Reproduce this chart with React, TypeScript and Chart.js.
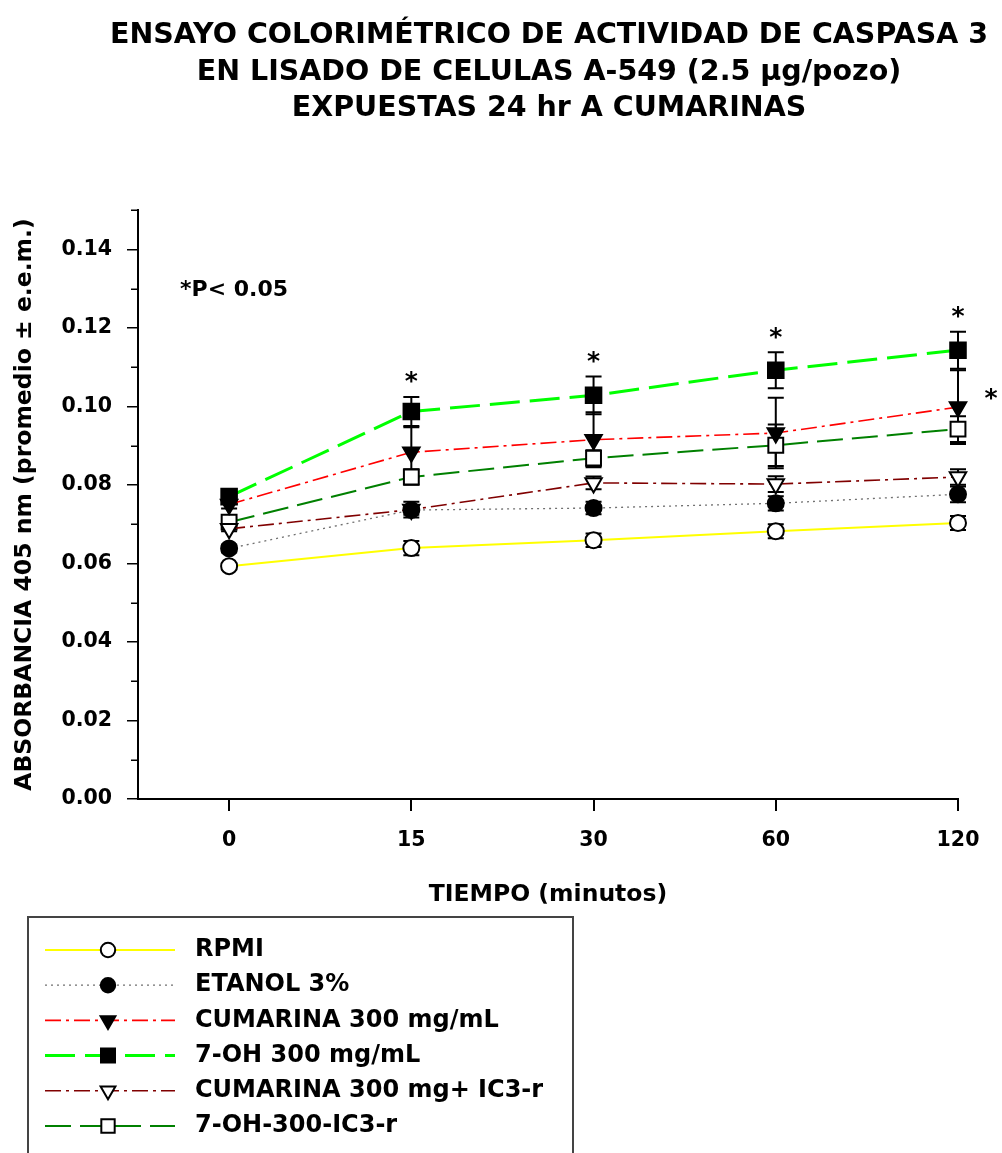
import React, { useEffect, useRef } from 'react';
import { Chart, registerables } from 'chart.js';
import { drawPoint } from 'chart.js/helpers';

Chart.register(...registerables);

// ---------- data ----------
const categories = ['0', '15', '30', '60', '120'];

const rpmi = [0.0593, 0.0639, 0.0659, 0.0682, 0.0703];
const rpmiErr = [0.0008, 0.0018, 0.0017, 0.0018, 0.0018];

const etanol = [0.0638, 0.0736, 0.0741, 0.0753, 0.0776];
const etanolErr = [0.0010, 0.0012, 0.0016, 0.0018, 0.0020];

const cumarina = [0.0750, 0.0883, 0.0915, 0.0932, 0.0998];
const cumarinaErr = [0.0010, 0.0064, 0.0070, 0.0090, 0.0094];

const oh7 = [0.0770, 0.0987, 0.1028, 0.1092, 0.1143];
const oh7Err = [0.0019, 0.0037, 0.0048, 0.0046, 0.0047];

const cumIc3 = [0.0688, 0.0737, 0.0805, 0.0802, 0.0820];
const cumIc3Err = [0.0006, 0.0020, 0.0016, 0.0020, 0.0020];

const oh7Ic3 = [0.0705, 0.0820, 0.0868, 0.0901, 0.0942];
const oh7Ic3Err = [0.0010, 0.0020, 0.0020, 0.0053, 0.0033];

const seriesNames = [
  'RPMI',
  'ETANOL 3%',
  'CUMARINA 300 mg/mL',
  '7-OH 300 mg/mL',
  'CUMARINA 300 mg+ IC3-r',
  '7-OH-300-IC3-r',
];

const sig7OH = [false, true, true, true, true];
const sigCumarina = [false, false, false, false, true];

const yTickValues = [0, 0.01, 0.02, 0.03, 0.04, 0.05, 0.06, 0.07, 0.08, 0.09, 0.1, 0.11, 0.12, 0.13, 0.14, 0.15];

const titleLines = [
  'ENSAYO COLORIMÉTRICO DE ACTIVIDAD DE CASPASA 3',
  'EN LISADO DE CELULAS A-549 (2.5 μg/pozo)',
  'EXPUESTAS 24 hr A CUMARINAS',
];
const noteText = '*P< 0.05';
const xTitle = 'TIEMPO (minutos)';
const yTitle = 'ABSORBANCIA 405 nm (promedio ± e.e.m.)';

// ---------- styles ----------
const FONT = '"DejaVu Sans", "Liberation Sans", Arial, sans-serif';

const seriesValues = [rpmi, etanol, cumarina, oh7, cumIc3, oh7Ic3];
const seriesErrors = [rpmiErr, etanolErr, cumarinaErr, oh7Err, cumIc3Err, oh7Ic3Err];

const seriesStyles = [
  { color: '#FFFF00', dash: [] as number[], width: 2, pointStyle: 'circle', fill: '#FFFFFF', radius: 8, rotation: 0 },
  { color: '#707070', dash: [2, 4], width: 1.3, pointStyle: 'circle', fill: '#000000', radius: 8, rotation: 0 },
  { color: '#FF0000', dash: [16, 5, 3, 5], width: 1.6, pointStyle: 'triangle', fill: '#000000', radius: 9.5, rotation: 180 },
  { color: '#00FF00', dash: [30, 10], width: 3, pointStyle: 'rect', fill: '#000000', radius: 11, rotation: 0 },
  { color: '#800000', dash: [16, 5, 3, 5], width: 1.6, pointStyle: 'triangle', fill: '#FFFFFF', radius: 9.5, rotation: 180 },
  { color: '#008000', dash: [26, 9], width: 2, pointStyle: 'rect', fill: '#FFFFFF', radius: 10.5, rotation: 0 },
];

const isMajorY = (v: number) => Math.round(v * 100) % 2 === 0;

const errorBarPlugin = {
  id: 'errorBars',
  beforeDatasetsDraw(chart: any) {
    const { ctx } = chart;
    const xs = chart.scales.x;
    const ys = chart.scales.y;
    ctx.save();
    ctx.strokeStyle = '#000';
    ctx.lineWidth = 2;
    ctx.setLineDash([]);
    seriesValues.forEach((vals, si) => {
      vals.forEach((v, i) => {
        const e = seriesErrors[si][i];
        const x = xs.getPixelForValue(i);
        const yt = ys.getPixelForValue(v + e);
        const yb = ys.getPixelForValue(v - e);
        ctx.beginPath();
        ctx.moveTo(x, yt);
        ctx.lineTo(x, yb);
        ctx.moveTo(x - 8, yt);
        ctx.lineTo(x + 8, yt);
        ctx.moveTo(x - 8, yb);
        ctx.lineTo(x + 8, yb);
        ctx.stroke();
      });
    });
    ctx.restore();
  },
};

const decorPlugin = {
  id: 'decor',
  afterDraw(chart: any) {
    const { ctx } = chart;
    const xs = chart.scales.x;
    const ys = chart.scales.y;
    ctx.save();

    // minor y ticks (shorter)
    ctx.strokeStyle = '#000';
    ctx.lineWidth = 1.5;
    yTickValues.forEach((v) => {
      if (isMajorY(v)) return;
      const y = Math.round(ys.getPixelForValue(v)) + 0.25;
      ctx.beginPath();
      ctx.moveTo(ys.right - 7, y);
      ctx.lineTo(ys.right, y);
      ctx.stroke();
    });

    ctx.fillStyle = '#000';
    // title
    ctx.font = `bold 28.5px ${FONT}`;
    ctx.textAlign = 'center';
    ctx.textBaseline = 'middle';
    const titleY = [36, 73, 109];
    titleLines.forEach((t, i) => ctx.fillText(t, 549, titleY[i]));

    // note
    ctx.font = `bold 22px ${FONT}`;
    ctx.textAlign = 'left';
    ctx.fillText(noteText, 180, 290);

    // asterisks
    ctx.font = `bold 25px ${FONT}`;
    ctx.textAlign = 'center';
    ctx.textBaseline = 'middle';
    sig7OH.forEach((s, i) => {
      if (!s) return;
      const x = xs.getPixelForValue(i);
      const y = ys.getPixelForValue(oh7[i] + oh7Err[i]) - 14;
      ctx.fillText('*', x, y);
    });
    sigCumarina.forEach((s, i) => {
      if (!s) return;
      const x = xs.getPixelForValue(i) + 33;
      const y = ys.getPixelForValue(cumarina[i]) - 8;
      ctx.fillText('*', x, y);
    });

    // legend
    ctx.strokeStyle = '#444';
    ctx.lineWidth = 2;
    ctx.strokeRect(28, 917, 545, 300);
    const rowY0 = 950;
    const rowDy = 35.2;
    seriesNames.forEach((name, i) => {
      const st = seriesStyles[i];
      const y = rowY0 + i * rowDy;
      ctx.save();
      ctx.strokeStyle = st.color;
      ctx.lineWidth = st.width;
      ctx.setLineDash(st.dash);
      ctx.beginPath();
      ctx.moveTo(45, y);
      ctx.lineTo(175, y);
      ctx.stroke();
      ctx.setLineDash([]);
      ctx.fillStyle = st.fill;
      ctx.strokeStyle = '#000';
      ctx.lineWidth = 2;
      drawPoint(ctx, { pointStyle: st.pointStyle, radius: st.radius * 0.9, rotation: st.rotation, borderWidth: 2 } as any, 108, y);
      ctx.restore();
      ctx.fillStyle = '#000';
      ctx.font = `bold 24px ${FONT}`;
      ctx.textAlign = 'left';
      ctx.textBaseline = 'middle';
      ctx.fillText(name, 195, y);
    });
    ctx.restore();
  },
};

export default function App() {
  const canvasRef = useRef<HTMLCanvasElement | null>(null);

  useEffect(() => {
    const canvas = canvasRef.current;
    if (!canvas) return;
    const datasets = seriesValues.map((vals, si) => {
      const st = seriesStyles[si];
      return {
        label: seriesNames[si],
        data: vals.map((v, i) => ({ x: i, y: v })),
        borderColor: st.color,
        borderWidth: st.width,
        borderDash: st.dash,
        backgroundColor: st.fill,
        pointStyle: st.pointStyle,
        pointRadius: st.radius,
        pointRotation: st.rotation,
        pointBackgroundColor: st.fill,
        pointBorderColor: '#000',
        pointBorderWidth: 2,
        fill: false,
        tension: 0,
        clip: false,
      };
    });

    const chart = new Chart(canvas, {
      type: 'line',
      data: { datasets } as any,
      plugins: [errorBarPlugin, decorPlugin],
      options: {
        responsive: false,
        animation: false,
        devicePixelRatio: 1,
        layout: { padding: { left: 0, top: 210, right: 44, bottom: 239 } },
        plugins: {
          legend: { display: false },
          tooltip: { enabled: false },
          title: { display: false },
        },
        scales: {
          x: {
            type: 'linear',
            min: -0.5,
            max: 4,
            afterBuildTicks: (s: any) => {
              s.ticks = categories.map((_, i) => ({ value: i }));
            },
            afterFit: (s: any) => {
              s.height = 115;
            },
            grid: { drawOnChartArea: false, drawTicks: true, tickLength: 12, color: '#000', lineWidth: 2 },
            border: { display: true, color: '#000', width: 2 },
            ticks: {
              autoSkip: false,
              maxRotation: 0,
              padding: 17,
              color: '#000',
              font: { family: FONT, size: 20.5, weight: 'bold' },
              callback: (v: any) => categories[Math.round(v)] ?? '',
            },
            title: {
              display: true,
              text: xTitle,
              color: '#000',
              font: { family: FONT, size: 23.5, weight: 'bold' },
              padding: { top: 0, bottom: 5 },
            },
          },
          y: {
            type: 'linear',
            min: 0,
            max: 0.15,
            afterBuildTicks: (s: any) => {
              s.ticks = yTickValues.map((v) => ({ value: v }));
            },
            afterFit: (s: any) => {
              s.width = 138;
            },
            grid: {
              drawOnChartArea: false,
              drawTicks: true,
              tickLength: 11,
              color: '#000',
              lineWidth: 1.5,
              tickColor: (c: any) => (c.tick && !isMajorY(c.tick.value) ? 'rgba(0,0,0,0)' : '#000'),
            },
            border: { display: true, color: '#000', width: 2 },
            ticks: {
              autoSkip: false,
              padding: 15,
              color: '#000',
              font: { family: FONT, size: 20.5, weight: 'bold' },
              callback: (v: any) => {
                const k = Math.round(v * 100);
                return k % 2 === 0 && k <= 14 ? (k / 100).toFixed(2) : '';
              },
            },
            title: {
              display: true,
              text: yTitle,
              color: '#000',
              font: { family: FONT, size: 23.5, weight: 'bold' },
              padding: { top: 11, bottom: 0 },
            },
          },
        },
      } as any,
    });
    return () => chart.destroy();
  }, []);

  return (
    <div style={{ position: 'absolute', left: 0, top: 0, width: 1002, height: 1153, background: '#fff' }}>
      <canvas ref={canvasRef} width={1002} height={1153} style={{ display: 'block' }} />
    </div>
  );
}
